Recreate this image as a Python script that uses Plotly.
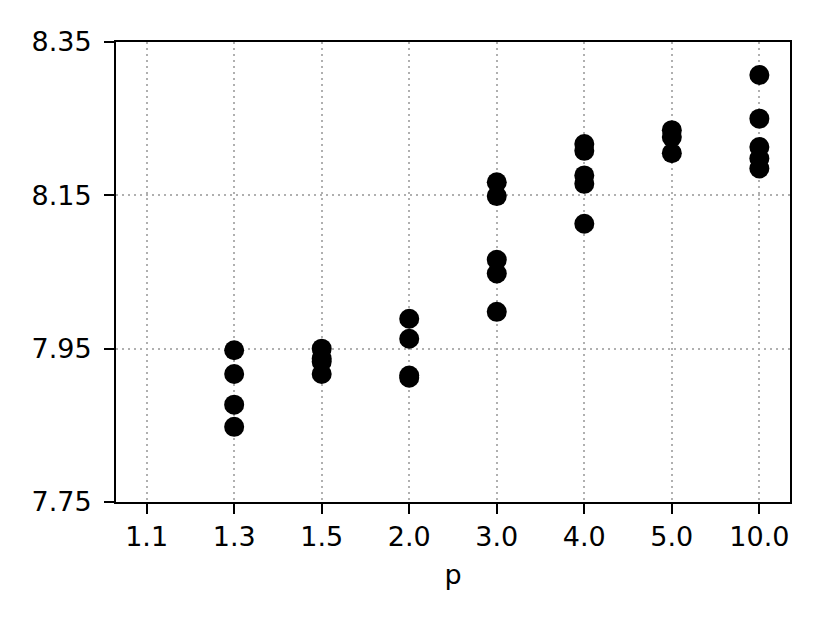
import plotly.graph_objects as go

p_labels = ["1.1", "1.3", "1.5", "2.0", "3.0", "4.0", "5.0", "10.0"]

p_points = ["1.3", "1.3", "1.3", "1.3",
            "1.5", "1.5", "1.5", "1.5",
            "2.0", "2.0", "2.0", "2.0",
            "3.0", "3.0", "3.0", "3.0", "3.0",
            "4.0", "4.0", "4.0", "4.0", "4.0",
            "5.0", "5.0", "5.0",
            "10.0", "10.0", "10.0", "10.0", "10.0"]
score_points = [7.948, 7.917, 7.877, 7.848,
                7.950, 7.937, 7.933, 7.917,
                7.989, 7.963, 7.915, 7.912,
                8.167, 8.149, 8.066, 8.048, 7.998,
                8.217, 8.208, 8.176, 8.165, 8.113,
                8.235, 8.226, 8.205,
                8.307, 8.250, 8.213, 8.198, 8.185]

y_ticks = [7.75, 7.95, 8.15, 8.35]

fig = go.Figure()
fig.add_trace(go.Scatter(x=p_points, y=score_points, mode="markers",
                         marker=dict(color="black", size=20), showlegend=False))

axis_common = dict(showline=True, linecolor="black", linewidth=2, mirror=True,
                   ticks="outside", ticklen=10, tickwidth=2, tickcolor="black",
                   showgrid=True, gridcolor="#b0b0b0", gridwidth=2, griddash="2px,4px",
                   zeroline=False, automargin=False, tickfont=dict(size=27, color="black"))

fig.update_xaxes(type="category", categoryorder="array", categoryarray=p_labels,
                 range=[-0.35, 7.35], ticklabelstandoff=0,
                 title=dict(text="p", font=dict(size=27, color="black"), standoff=14),
                 **axis_common)
fig.update_yaxes(range=[7.75, 8.35], tickvals=y_ticks, ticktext=["%.2f" % v for v in y_ticks],
                 ticklabelstandoff=7, **axis_common)

# page body has an 8px margin, so the figure is shrunk by that much
fig.update_layout(width=822, height=615, plot_bgcolor="white", paper_bgcolor="white",
                  font=dict(family="DejaVu Sans", color="black"),
                  margin=dict(l=108, r=40, t=34, b=121))

fig.write_html("out.html")
